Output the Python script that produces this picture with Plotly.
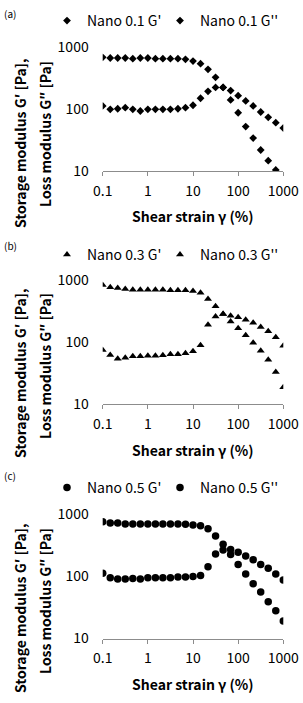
import plotly.graph_objects as go

# ---------------- data ----------------
strain = [0.1, 0.147, 0.215, 0.316, 0.464, 0.681, 1.0, 1.47, 2.15, 3.16, 4.64, 6.81,
          10.0, 14.7, 21.5, 31.6, 46.4, 68.1, 100.0, 147.0, 215.0, 316.0, 464.0, 681.0, 1000.0]

nano01_Gp = [681, 665, 665, 665, 649, 665, 665, 649, 649, 649, 649, 632, 594, 538, 436, 324,
             223, 140, 87, 52, 34, 21.8, 14.7, 10.4, None]
nano01_Gpp = [112, 98.8, 101, 105, 98.8, 92.9, 98.8, 98.8, 98.8, 98.8, 101, 105, 115, 149, 193,
              223, 223, 198, 164, 135, 112, 89.5, 73.5, 60.2, 49.4]

nano03_Gp = [830, 762, 743, 716, 699, 699, 699, 699, 699, 681, 681, 681, 665, 625, 494, 376,
             283, 215, 166, 128, 97.5, 72.4, 51.9, 32.8, 18.6]
nano03_Gpp = [74.3, 61.7, 53.8, 55.9, 58.7, 58.7, 60.2, 60.2, 61.0, 63.3, 63.3, 65.6, 70.7, 88.3,
              190, 257, 283, 266, 250, 229, 205, 175, 149, 119, 87.3]

nano05_Gp = [762, 724, 724, 698, 698, 698, 698, 698, 698, 698, 698, 690, 673, 657, 587, 448,
             328, 226, 156, 109, 76.2, 55.9, 39.0, 27.9, 19.1]
nano05_Gpp = [112, 95.1, 90.5, 90.5, 92.8, 90.5, 95.1, 95.1, 95.1, 95.1, 97.6, 97.6, 100, 103,
              143, 229, 266, 272, 244, 213, 186, 156, 135, 109, 87.3]

x_ticks = [0.1, 1, 10, 100, 1000]
x_tick_labels = ["0.1", "1", "10", "100", "1000"]
y_ticks = [10, 100, 1000]
y_tick_labels = ["10", "100", "1000"]

panel_labels = ["(a)", "(b)", "(c)"]
series_names = [("Nano 0.1 G'", "Nano 0.1 G''"),
                ("Nano 0.3 G'", "Nano 0.3 G''"),
                ("Nano 0.5 G'", "Nano 0.5 G''")]
x_title = "Shear strain γ (%)"
y_title_1 = "Storage modulus G′ [Pa],"
y_title_2 = "Loss modulus G″ [Pa]"

# ---------------- layout geometry (pixels) ----------------
W, H = 303, 703
FONT = "Noto Sans CJK KR, Noto Sans, sans-serif"
FS = 14


def px(x):
    return x / W


def py(y):
    return 1 - y / H


X_LEFT, X_RIGHT = 102.7, 283.3
panels = [
    dict(top=47, bot=171, leg=21, lab=14, xt=216, yt1=(20, 143), yt2=(45, 134)),
    dict(top=280, bot=404, leg=255, lab=245, xt=450, yt1=(20, 373), yt2=(45, 366)),
    dict(top=514.3, bot=638.5, leg=488, lab=475, xt=684, yt1=(20, 608), yt2=(45, 601)),
]
symbols = ["diamond", "triangle-up", "circle"]
sizes = [6, 7, 7.5]
legend_widths = [68, 90]
data = [(nano01_Gp, nano01_Gpp), (nano03_Gp, nano03_Gpp), (nano05_Gp, nano05_Gpp)]

fig = go.Figure()
annotations = []
layout = dict(
    width=W, height=H, margin=dict(l=0, r=0, t=0, b=0, autoexpand=False),
    paper_bgcolor="white", plot_bgcolor="white",
    font=dict(family=FONT, size=FS, color="#000000"),
    showlegend=True,
)

for i, p in enumerate(panels):
    sfx = "" if i == 0 else str(i + 1)
    xa, ya = "x" + sfx, "y" + sfx
    leg = "legend" + sfx
    gp, gpp = data[i]
    for j, (vals, name) in enumerate(zip((gp, gpp), series_names[i])):
        fig.add_trace(go.Scatter(
            x=strain, y=vals, mode="markers", name=name,
            marker=dict(symbol=symbols[i], size=sizes[i], color="#000000"),
            xaxis=xa, yaxis=ya, legend=leg, cliponaxis=True,
            legendwidth=legend_widths[j],
        ))
    layout["xaxis" + sfx] = dict(
        type="log", range=[-1, 3], domain=[px(X_LEFT), px(X_RIGHT)], anchor=ya,
        showgrid=False, zeroline=False, showline=True, linecolor="#8c8c8c", linewidth=1,
        ticks="outside", ticklen=4, tickcolor="#8c8c8c",
        tickvals=x_ticks, ticktext=x_tick_labels, ticklabelstandoff=3,
        tickfont=dict(size=FS, color="#000000"),
    )
    # second x axis over the first, to draw the upper half of the crossing tick marks
    layout["xaxis" + str(i + 4)] = dict(
        type="log", range=[-1, 3], domain=[px(X_LEFT), px(X_RIGHT)], anchor=ya,
        overlaying=xa, side="bottom",
        showgrid=False, zeroline=False, showline=False,
        ticks="inside", ticklen=4, tickcolor="#8c8c8c",
        tickvals=x_ticks, showticklabels=False,
    )
    layout["yaxis" + sfx] = dict(
        type="log", range=[1, 3], domain=[py(p["bot"]), py(p["top"])], anchor=xa,
        showgrid=False, zeroline=False, showline=False, ticks="",
        tickvals=y_ticks, ticktext=y_tick_labels, ticklabelstandoff=13,
        tickfont=dict(size=FS, color="#000000"),
    )
    layout[leg] = dict(
        orientation="h", x=px(47), xanchor="left", y=py(p["leg"]), yanchor="middle",
        font=dict(size=FS, color="#000000"), bgcolor="rgba(0,0,0,0)",
        entrywidthmode="pixels", itemwidth=30,
    )
    annotations.append(dict(
        text=panel_labels[i], x=px(2), y=py(p["lab"]), xref="paper", yref="paper",
        xanchor="left", yanchor="middle", showarrow=False, font=dict(size=10)))
    annotations.append(dict(
        text="<b>" + x_title + "</b>", x=px((X_LEFT + X_RIGHT) / 2), y=py(p["xt"]),
        xref="paper", yref="paper", xanchor="center", yanchor="middle",
        showarrow=False, font=dict(size=FS)))
    annotations.append(dict(
        text="<b>" + y_title_1 + "</b>", x=px(p["yt1"][0]), y=py(p["yt1"][1]),
        xref="paper", yref="paper", xanchor="center", yanchor="middle",
        textangle=-90, showarrow=False, font=dict(size=FS)))
    annotations.append(dict(
        text="<b>" + y_title_2 + "</b>", x=px(p["yt2"][0]), y=py(p["yt2"][1]),
        xref="paper", yref="paper", xanchor="center", yanchor="middle",
        textangle=-90, showarrow=False, font=dict(size=FS)))

layout["annotations"] = annotations
fig.update_layout(**layout)
fig.write_html("out.html")
